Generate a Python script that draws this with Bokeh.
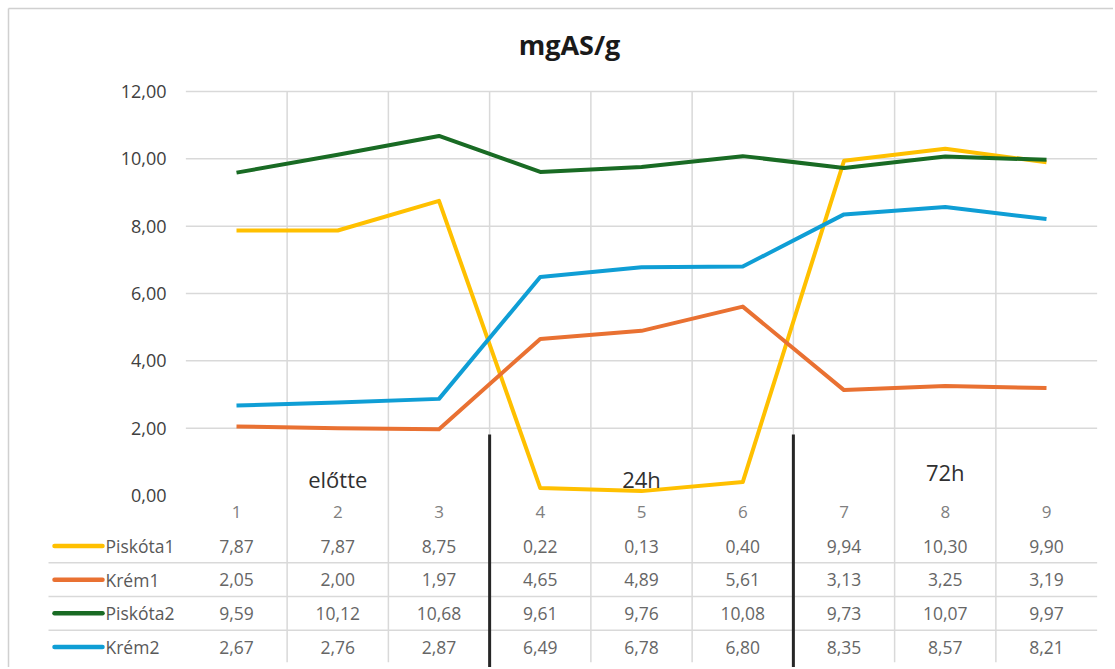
from bokeh.plotting import figure
from bokeh.models import Range1d
from bokeh.core.properties import value
from bokeh.embed import file_html
from bokeh.resources import INLINE

# ---------------- data ----------------
categories = ["1", "2", "3", "4", "5", "6", "7", "8", "9"]
series_names = ["Piskóta1", "Krém1", "Piskóta2", "Krém2"]
piskota1 = [7.87, 7.87, 8.75, 0.22, 0.13, 0.40, 9.94, 10.30, 9.90]
krem1 = [2.05, 2.00, 1.97, 4.65, 4.89, 5.61, 3.13, 3.25, 3.19]
piskota2 = [9.59, 10.12, 10.68, 9.61, 9.76, 10.08, 9.73, 10.07, 9.97]
krem2 = [2.67, 2.76, 2.87, 6.49, 6.78, 6.80, 8.35, 8.57, 8.21]
y_ticks = [0, 2, 4, 6, 8, 10, 12]
group_labels = ["előtte", "24h", "72h"]
group_centers = [2, 5, 8]
group_dividers = [3.5, 6.5]
title_text = "mgAS/g"

series_values = [piskota1, krem1, piskota2, krem2]
series_colors = ["#FFC000", "#E97132", "#196B24", "#0F9ED5"]

# ---------------- layout ----------------
W, H = 1113, 667
PX_PER_X = 101.25          # pixels per category
PX_PER_Y = 33.667          # pixels per unit
X_FIRST_PX = 236           # pixel of category 1
Y_ZERO_PX = 495            # pixel of value 0

x0 = 1 - X_FIRST_PX / PX_PER_X
x1 = x0 + W / PX_PER_X
y1 = Y_ZERO_PX / PX_PER_Y
y0 = y1 - H / PX_PER_Y


def px2x(px):
    return x0 + px / PX_PER_X


def px2y(py):
    return y1 - py / PX_PER_Y


xs = [float(c) for c in categories]
n = len(categories)
FONT = value("Open Sans")

p = figure(width=W, height=H, x_range=Range1d(x0, x1), y_range=Range1d(y0, y1),
           x_axis_type=None, y_axis_type=None, output_backend="svg",
           toolbar_location=None, min_border=0)
p.outline_line_color = None
p.background_fill_color = "white"
p.border_fill_color = "white"

# chart box border (top and left edges visible)
p.segment(x0=[px2x(8), px2x(8)], x1=[x1 + 1, px2x(8)], y0=[px2y(8), px2y(8)],
          y1=[px2y(8), y0 - 1], line_color="#d0d0d0", line_width=1.5)

grid_color = "#d9d9d9"
plot_left, plot_right = xs[0] - 0.5, xs[-1] + 0.5
row_h = 1.0
n_rows = len(series_names)
table_bottom = -(n_rows + 1) * row_h

# horizontal gridlines (above 0)
gl = [t for t in y_ticks if t > 0]
p.segment(x0=[plot_left] * len(gl), x1=[plot_right] * len(gl), y0=gl, y1=gl,
          line_color=grid_color, line_width=1.5)

# vertical gridlines through plot and table
vx = [c + 0.5 for c in xs[:-1]]
p.segment(x0=vx, x1=vx, y0=[max(y_ticks)] * len(vx), y1=[table_bottom + 0.05] * len(vx),
          line_color=grid_color, line_width=1.5)

# table row separators
sep_y = [-(i + 2) * row_h for i in range(n_rows - 1)]
table_left = px2x(48)
p.segment(x0=[table_left] * len(sep_y), x1=[plot_right] * len(sep_y), y0=sep_y, y1=sep_y,
          line_color=grid_color, line_width=1.5)

# series lines
for vals, col in zip(series_values, series_colors):
    p.line(x=xs, y=vals, line_color=col, line_width=4, line_join="round")

# group dividers (black)
p.segment(x0=group_dividers, x1=group_dividers, y0=[px2y(434)] * 2, y1=[y0 - 1] * 2,
          line_color="#262626", line_width=3)

# y tick labels
p.text(x=[px2x(166)] * len(y_ticks), y=y_ticks,
       text=[f"{t:.2f}".replace(".", ",") for t in y_ticks],
       text_font=FONT, text_font_size="18px", text_align="right", text_baseline="middle",
       text_color="#404040")

# category numbers
p.text(x=xs, y=[-0.5 * row_h] * n, text=categories, text_font=FONT, text_font_size="17px",
       text_align="center", text_baseline="middle", text_color="#808080")

# group labels
p.text(x=group_centers, y=[px2y(478), px2y(478), px2y(471)], text=group_labels,
       text_font=FONT, text_font_size="22px", text_align="center", text_baseline="middle",
       text_color="#303030")

# data table
key_x0, key_x1 = px2x(54), px2x(102)
label_x = px2x(105)
for i, (name, vals, col) in enumerate(zip(series_names, series_values, series_colors)):
    ry = -(i + 1.5) * row_h
    p.segment(x0=[key_x0], x1=[key_x1], y0=[ry], y1=[ry], line_color=col, line_width=4.5,
              line_cap="round")
    p.text(x=[label_x], y=[ry], text=[name], text_font=FONT, text_font_size="17.5px",
           text_align="left", text_baseline="middle", text_color="#595959")
    p.text(x=xs, y=[ry] * n, text=[f"{v:.2f}".replace(".", ",") for v in vals],
           text_font=FONT, text_font_size="17.5px", text_align="center", text_baseline="middle",
           text_color="#666666")

# title
p.text(x=[px2x(569)], y=[px2y(44)], text=[title_text], text_font=FONT, text_font_size="27px",
       text_font_style="bold", text_align="center", text_baseline="middle", text_color="#1a1a1a")

open("out.html", "w").write(file_html(p, INLINE))
